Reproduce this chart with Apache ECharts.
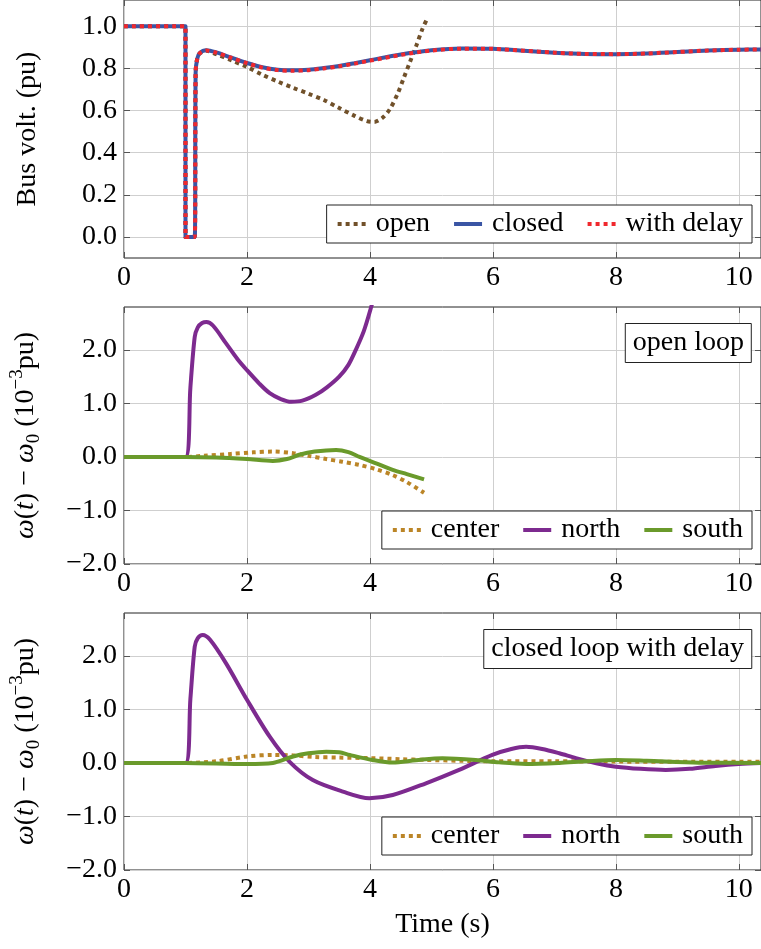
<!DOCTYPE html>
<html><head><meta charset="utf-8">
<script src="https://cdn.jsdelivr.net/npm/echarts@6/dist/echarts.min.js"></script>
<style>html,body{margin:0;padding:0;background:#fff}#c{width:761px;height:949px}</style>
</head><body><div id="c"></div>
<script>
// ---------- data ----------
const xTicks = [0, 2, 4, 6, 8, 10];
const yTicksVolt = [0, 0.2, 0.4, 0.6, 0.8, 1.0];
const yTicksOmega = [-2, -1, 0, 1, 2];

// Panel 1: bus voltage (pu)  (corner points repeated to keep the step sharp)
const tClosed = [0,1.0,1.0,1.0,1.0,1.15,1.15,1.165,1.19,1.23,1.34,1.5,1.75,2.0,2.25,2.5,2.72,3.0,3.25,3.5,3.75,4.0,4.5,5.0,5.5,6.0,6.5,7.0,7.5,8.0,8.5,9.0,9.5,10.0,10.4];
const vClosed = [1.0,1.0,1.0,0.0,0.0,0.0,0.0,0.78,0.845,0.872,0.886,0.876,0.851,0.826,0.806,0.794,0.791,0.794,0.802,0.812,0.825,0.839,0.866,0.886,0.895,0.893,0.884,0.875,0.869,0.868,0.871,0.878,0.885,0.889,0.890];
const tDelay = [0,1.0,1.0,1.0,1.0,1.15,1.15,1.165,1.19,1.23,1.34,1.5,1.75,2.0,2.25,2.5,2.72,3.0,3.25,3.5,3.75,4.0,4.5,5.0,5.5,6.0,6.5,7.0,7.5,8.0,8.5,9.0,9.5,10.0,10.4];
const vDelay = [1.0,1.0,1.0,0.0,0.0,0.0,0.0,0.78,0.845,0.871,0.885,0.875,0.850,0.825,0.804,0.792,0.789,0.792,0.800,0.810,0.823,0.837,0.864,0.885,0.894,0.893,0.884,0.875,0.869,0.868,0.871,0.878,0.885,0.889,0.890];
const tOpen = [0,1.0,1.0,1.0,1.0,1.15,1.15,1.165,1.19,1.23,1.34,1.5,1.75,2.0,2.25,2.5,2.75,3.0,3.25,3.5,3.75,3.95,4.07,4.2,4.32,4.45,4.55,4.65,4.75,4.85,4.92];
const vOpen = [1.0,1.0,1.0,0.0,0.0,0.0,0.0,0.78,0.845,0.871,0.884,0.868,0.838,0.807,0.770,0.738,0.708,0.680,0.650,0.612,0.575,0.550,0.546,0.565,0.605,0.680,0.755,0.830,0.905,0.985,1.03];

// Panel 2: open loop, omega deviation (1e-3 pu)
const tNorthOpen = [0,1.0,1.0,1.08,1.15,1.2,1.27,1.34,1.45,1.66,1.85,2.0,2.2,2.37,2.55,2.72,2.9,3.12,3.3,3.5,3.65,3.77,3.9,4.02,4.15];
const vNorthOpen = [0,0,0,1.3,2.24,2.42,2.5,2.52,2.45,2.12,1.82,1.62,1.37,1.19,1.08,1.03,1.05,1.16,1.30,1.50,1.72,2.0,2.35,2.80,3.35];
const tCenterOpen = [0,1.0,1.3,1.74,2.1,2.42,2.75,3.0,3.29,3.55,3.83,4.1,4.37,4.6,4.88];
const vCenterOpen = [0,0,0.02,0.056,0.085,0.10,0.07,0.02,-0.04,-0.09,-0.15,-0.23,-0.34,-0.47,-0.67];
const tSouthOpen = [0,1.0,1.5,2.0,2.42,2.65,2.85,3.1,3.45,3.65,3.83,4.1,4.37,4.6,4.88];
const vSouthOpen = [0,0,-0.01,-0.04,-0.075,-0.04,0.04,0.10,0.13,0.09,0.0,-0.12,-0.24,-0.32,-0.42];

// Panel 3: closed loop with delay
const tNorthCl = [0,1.0,1.0,1.08,1.15,1.2,1.28,1.4,1.66,2.0,2.37,2.69,3.07,3.56,3.99,4.37,4.91,5.45,5.99,6.3,6.54,6.8,7.08,7.35,7.7,8.0,8.4,8.81,9.2,9.62,10.0,10.4];
const vNorthCl = [0,0,0,1.2,2.17,2.33,2.39,2.3,1.86,1.18,0.49,0.025,-0.32,-0.535,-0.66,-0.60,-0.38,-0.13,0.15,0.26,0.30,0.26,0.18,0.09,-0.01,-0.07,-0.11,-0.13,-0.11,-0.056,-0.02,0.0];
const tCenterCl = [0,1.0,1.5,2.0,2.42,2.75,3.1,3.5,4.0,4.5,4.91,5.5,6.0,7.0,8.0,9.0,10.4];
const vCenterCl = [0,0,0.03,0.12,0.15,0.14,0.11,0.10,0.09,0.07,0.056,0.04,0.03,0.03,0.025,0.02,0.02];
const tSouthCl = [0,1.0,2.0,2.42,2.75,3.0,3.29,3.5,3.67,4.04,4.37,4.75,5.18,5.72,6.1,6.54,7.08,7.5,8.0,8.5,9.35,10.4];
const vSouthCl = [0,0,-0.02,0.0,0.12,0.18,0.21,0.20,0.15,0.056,0.006,0.05,0.088,0.056,0.01,-0.02,0.0,0.03,0.056,0.04,0.005,0.0];

// ---------- styling ----------
const FONT = 'Liberation Serif';
const FS = 28;
const COL = {open:'#71512a', closed:'#3a55a4', delay:'#f0282d', center:'#bb8527', north:'#7d2a8f', south:'#6a9a2b'};
const XMAX = 10.36;
const grids = [
  {left:124, right:-1, top:0, height:258},
  {left:124, right:-1, top:307, height:257},
  {left:124, right:-1, top:613, height:257}
].map(g => Object.assign(g, {show:true, borderColor:'#222', borderWidth:1, backgroundColor:'transparent'}));

const fmtY = v => Number(v).toFixed(1).replace('-', '\u2212');
const tickStyle = {show:true, inside:true, length:6, lineStyle:{color:'#555', width:1}};
const splitStyle = {show:true, lineStyle:{color:'#cfcfcf', width:1}};
const labelText = {color:'#000', fontFamily:FONT, fontSize:FS};
const noLine = {show:false, onZero:false};

const xAxes = [], yAxes = [];
[0,1,2].forEach(g => {
  xAxes.push({type:'value', gridIndex:g, position:'bottom', min:0, max:XMAX, interval:2,
    axisLine:noLine, axisTick:Object.assign({customValues:xTicks}, tickStyle),
    axisLabel:Object.assign({customValues:xTicks, margin:6, formatter:v=>String(v)}, labelText),
    splitLine:splitStyle,
    name: g===2 ? 'Time (s)' : '', nameLocation:'middle', nameGap:41,
    nameTextStyle:{color:'#000', fontFamily:FONT, fontSize:FS}});
  xAxes.push({type:'value', gridIndex:g, position:'top', min:0, max:XMAX, interval:2,
    axisLine:noLine, axisTick:Object.assign({customValues:xTicks}, tickStyle),
    axisLabel:{show:false}, splitLine:{show:false}});
});
const omegaName = '{i|\u03c9}({i|t}) \u2212 {i|\u03c9}{sub|0} (10{sup|\u22123}pu)';
const omegaRich = {
  i:{fontStyle:'italic', fontFamily:FONT, fontSize:FS, lineHeight:36, color:'#000'},
  sub:{fontFamily:FONT, fontSize:19, lineHeight:19, verticalAlign:'bottom', color:'#000'},
  sup:{fontFamily:FONT, fontSize:19, lineHeight:19, verticalAlign:'top', color:'#000'}
};
[0,1,2].forEach(g => {
  const volt = g===0;
  const ticks = volt ? yTicksVolt : yTicksOmega;
  const y = {type:'value', gridIndex:g, position:'left',
    min: volt ? -0.1 : -2, max: volt ? 1.125 : 2.8,
    axisLine:noLine, axisTick:Object.assign({customValues:ticks}, tickStyle),
    axisLabel:Object.assign({customValues:ticks, margin:7, formatter:fmtY}, labelText),
    splitLine:splitStyle,
    name: volt ? 'Bus volt. (pu)' : omegaName,
    nameLocation:'middle', nameRotate:90, nameGap: volt ? 82 : 80,
    nameTextStyle: volt ? {color:'#000', fontFamily:FONT, fontSize:FS}
                        : {color:'#000', fontFamily:FONT, fontSize:FS, lineHeight:36, rich:omegaRich}};
  if (!volt) y.interval = 1;
  yAxes.push(y);
  yAxes.push({type:'value', gridIndex:g, position:'right',
    min: volt ? -0.1 : -2, max: volt ? 1.125 : 2.8,
    axisLine:noLine, axisTick:Object.assign({customValues:ticks}, tickStyle),
    axisLabel:{show:false}, splitLine:{show:false}});
});

const pts = (ts, vs) => ts.map((t, i) => [t, vs[i]]);
function line(name, g, ts, vs, color, dotted) {
  return {name, type:'line', xAxisIndex:g*2, yAxisIndex:g*2, data:pts(ts, vs),
    symbol:'none', showSymbol:false, clip:true, silent:true, smooth:0.3,
    lineStyle:{color, width:4, type: dotted ? [4,4] : 'solid', cap:'butt', join:'round'},
    itemStyle:{color}, emphasis:{disabled:true}};
}
const series = [
  line('open', 0, tOpen, vOpen, COL.open, true),
  line('closed', 0, tClosed, vClosed, COL.closed, false),
  line('with delay', 0, tDelay, vDelay, COL.delay, true),
  line('center', 1, tCenterOpen, vCenterOpen, COL.center, true),
  line('north', 1, tNorthOpen, vNorthOpen, COL.north, false),
  line('south', 1, tSouthOpen, vSouthOpen, COL.south, false),
  line('center', 2, tCenterCl, vCenterCl, COL.center, true),
  line('north', 2, tNorthCl, vNorthCl, COL.north, false),
  line('south', 2, tSouthCl, vSouthCl, COL.south, false)
];

const legendBase = {orient:'horizontal', right:9, itemWidth:28, itemHeight:14, itemGap:22,
  padding:[5,9], borderColor:'#222', borderWidth:1, backgroundColor:'#fff', borderRadius:0,
  selectedMode:false,
  itemStyle:{opacity:0, borderWidth:0},
  lineStyle:{width:4},
  textStyle:{color:'#000', fontFamily:FONT, fontSize:FS, padding:[0,0,0,5]}};
const legends = [
  Object.assign({}, legendBase, {top:205, data:['open','closed','with delay']}),
  Object.assign({}, legendBase, {top:511, data:['center','north','south']}),
  Object.assign({}, legendBase, {top:817, data:['center','north','south']})
];
const titleBase = {right:9, padding:[6,8], borderColor:'#222', borderWidth:1, backgroundColor:'#fff',
  textStyle:{color:'#000', fontFamily:FONT, fontSize:FS, fontWeight:'normal'}};
const titles = [
  Object.assign({}, titleBase, {text:'open loop', top:323}),
  Object.assign({}, titleBase, {text:'closed loop with delay', top:629})
];

const chart = echarts.init(document.getElementById('c'), null, {renderer:'canvas'});
chart.setOption({
  animation:false,
  backgroundColor:'#fff',
  title:titles,
  legend:legends,
  grid:grids,
  xAxis:xAxes,
  yAxis:yAxes,
  series
});
</script></body></html>
